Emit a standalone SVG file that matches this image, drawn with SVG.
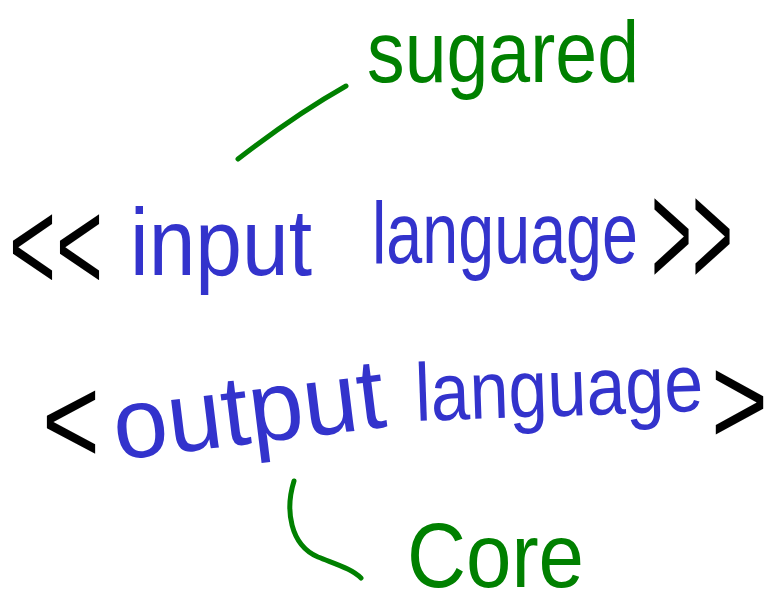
<svg xmlns="http://www.w3.org/2000/svg" width="771" height="606" viewBox="0 0 771 606">
<style>
.blue{fill:#3333cc;font-family:"Liberation Sans",Arial,sans-serif}
.green{fill:#008000;font-family:"Liberation Sans",Arial,sans-serif}
.black{fill:#000;font-family:"Liberation Sans",Arial,sans-serif}
.conn{fill:none;stroke:#008000;stroke-width:5;stroke-linecap:round;stroke-linejoin:round}
</style>
<rect width="771" height="606" fill="#fff"/>
<g id="connectors">
<path class="conn" d="M238,159 C260,142 300,112 346,86"/>
<path class="conn" d="M294,481 C285,510 290,545 318,557 C338,565 352,569 361,578"/>
</g>
<g id="sugared">
<text class="green" x="0" y="0" font-size="75" textLength="272" lengthAdjust="spacingAndGlyphs" transform="translate(367 82) scale(1 1.17)">sugared</text>
</g>
<g id="input-language">
<text class="black" x="0" y="0" font-size="82" textLength="94" lengthAdjust="spacingAndGlyphs" transform="translate(9 290) scale(1 1.58)">&lt;&lt;</text>
<text class="blue" x="0" y="0" font-size="84" textLength="182" lengthAdjust="spacingAndGlyphs" transform="translate(130 275) scale(1 1.13)">input</text>
<text class="blue" x="0" y="0" font-size="65" textLength="266" lengthAdjust="spacingAndGlyphs" transform="translate(372 263) scale(1 1.35)">language</text>
<text class="black" x="0" y="0" font-size="70" textLength="82" lengthAdjust="spacingAndGlyphs" transform="translate(651 286) scale(1 2.14)">&gt;&gt;</text>
</g>
<g id="output-language">
<text class="black" x="0" y="0" font-size="99" textLength="58" lengthAdjust="spacingAndGlyphs" transform="translate(42 463) scale(1 1.26)">&lt;</text>
<text class="blue" x="0" y="0" font-size="98" textLength="273" lengthAdjust="spacingAndGlyphs" transform="translate(117 460) rotate(-7) scale(1 1.02)">output</text>
<text class="blue" x="0" y="0" font-size="70" textLength="288" lengthAdjust="spacingAndGlyphs" transform="translate(416 421) rotate(-2) scale(1 1.17)">language</text>
<text class="black" x="0" y="0" font-size="97" textLength="57" lengthAdjust="spacingAndGlyphs" transform="translate(711 444) scale(1 1.3)">&gt;</text>
</g>
<g id="core">
<text class="green" x="0" y="0" font-size="80" textLength="177" lengthAdjust="spacingAndGlyphs" transform="translate(407 587) scale(1 1.14)">Core</text>
</g>
</svg>
